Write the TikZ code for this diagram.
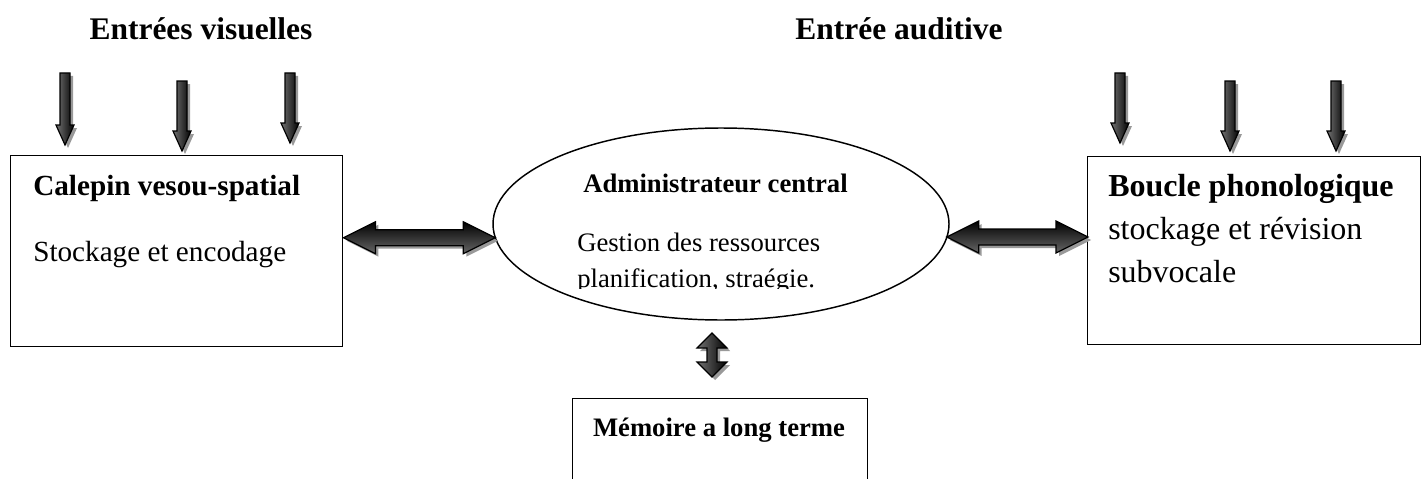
\documentclass[tikz,border=0pt]{standalone}
\usepackage{fontspec}
\setmainfont{Liberation Serif}
\usetikzlibrary{shapes.geometric,calc}

% block arrows drawn between two named points
\newcommand\blkdownpath[2]{let \p1=(#1), \p2=(#2) in
  (\x1-3.75pt,\y1) -- (\x1+3.75pt,\y1) -- (\x1+3.75pt,\y2+15pt) -- (\x1+6.75pt,\y2+15pt)
  -- (\x2,\y2) -- (\x1-6.75pt,\y2+15pt) -- (\x1-3.75pt,\y2+15pt) -- cycle}
\newcommand\blkhorizpath[2]{let \p1=(#1), \p2=(#2) in
  (\x1,\y1) -- (\x1+24pt,\y1+12pt) -- (\x1+24pt,\y1+6pt) -- (\x2-24pt,\y1+6pt)
  -- (\x2-24pt,\y1+12pt) -- (\x2,\y1) -- (\x2-24pt,\y1-12pt) -- (\x2-24pt,\y1-6pt)
  -- (\x1+24pt,\y1-6pt) -- (\x1+24pt,\y1-12pt) -- cycle}
\newcommand\blkvertpath[2]{let \p1=(#1), \p2=(#2) in
  (\x1,\y1) -- (\x1+11.25pt,\y1-11.25pt) -- (\x1+3.75pt,\y1-11.25pt) -- (\x1+3.75pt,\y2+11.25pt)
  -- (\x1+11.25pt,\y2+11.25pt) -- (\x1,\y2) -- (\x1-11.25pt,\y2+11.25pt) -- (\x1-3.75pt,\y2+11.25pt)
  -- (\x1-3.75pt,\y1-11.25pt) -- (\x1-11.25pt,\y1-11.25pt) -- cycle}

\newcommand\blkdown[2]{%
  \begin{scope}[transform canvas={shift={(2.25pt,-2.25pt)}}]
    \path[arrshadow] \blkdownpath{#1}{#2};
  \end{scope}
  \path[arrbody,left color=black!55,right color=black] \blkdownpath{#1}{#2};}
\newcommand\blkhoriz[2]{%
  \begin{scope}[transform canvas={shift={(2.25pt,-2.25pt)}}]
    \path[arrshadow] \blkhorizpath{#1}{#2};
  \end{scope}
  \path[arrbody,top color=black,bottom color=black!60] \blkhorizpath{#1}{#2};}
\newcommand\blkvert[2]{%
  \begin{scope}[transform canvas={shift={(2.25pt,-2.25pt)}}]
    \path[arrshadow] \blkvertpath{#1}{#2};
  \end{scope}
  \path[arrbody,left color=black!55,right color=black] \blkvertpath{#1}{#2};}

\begin{document}
\begin{tikzpicture}[x=0.75pt,y=-0.75pt,
  panel/.style={draw,line width=1.1pt,rectangle,inner sep=0pt,anchor=north west},
  arrshadow/.style={fill=black!40},
  arrbody/.style={draw=black,line width=0.9pt},
  heading/.style={font=\fontsize{23.6}{28}\selectfont\bfseries,inner sep=0pt,anchor=base},
  txt/.style={inner sep=0pt,anchor=base west},
  bigb/.style={txt,font=\fontsize{21.9}{26}\selectfont\bfseries},
  bigr/.style={txt,font=\fontsize{21.9}{26}\selectfont},
  hugeb/.style={txt,font=\fontsize{24}{28}\selectfont\bfseries},
  huger/.style={txt,font=\fontsize{24}{28}\selectfont},
  midb/.style={txt,font=\fontsize{20}{24}\selectfont\bfseries},
  midr/.style={txt,font=\fontsize{20}{24}\selectfont}]
\useasboundingbox (0,0) rectangle (1426,478);

% headings
\node[heading] (tvis) at (201,40) {Entrées visuelles};
\node[heading] (taud) at (899,40) {Entrée auditive};

% boxes
\node[panel,minimum width=249pt,minimum height=143.25pt] (vis) at (10,155) {};
\node[panel,minimum width=249.75pt,minimum height=141pt] (phon) at (1087,156) {};
\node[panel,minimum width=221.25pt,minimum height=75pt] (mlt) at (572,398) {};
\node[draw,ellipse,line width=1.1pt,minimum width=342pt,minimum height=144pt,inner sep=0pt] (ell) at (721,224) {};

% box texts
\node[bigb] (visa) at (33,195) {Calepin vesou-spatial};
\node[bigr] (visb) at (33,261) {Stockage et encodage};
\node[hugeb] (phona) at (1108,196) {Boucle phonologique};
\node[huger] (phonb) at (1108,239) {stockage et révision};
\node[huger] (phonc) at (1108,282) {subvocale};
\node[midb] (ella) at (583,192) {Administrateur central};
\node[midr] (ellb) at (577,251) {Gestion des ressources};
\begin{scope}
  \clip (500,260) rectangle (950,288);
  \node[midr] (ellc) at (577,287) {planification, straégie.};
\end{scope}
\node[midb,anchor=base] (mlta) at (719,436) {Mémoire a long terme};

% input arrows
\foreach \nm/\x/\a/\b in {v1/65/73/145, v2/182/81/151, v3/290/73/143,
                        a1/1120/73/143, a2/1230/81/151, a3/1336/81/151}{
  \coordinate (\nm s) at (\x,\a);
  \coordinate (\nm e) at (\x,\b);
}
\blkdown{v1s}{v1e}
\blkdown{v2s}{v2e}
\blkdown{v3s}{v3e}
\blkdown{a1s}{a1e}
\blkdown{a2s}{a2e}
\blkdown{a3s}{a3e}

% exchanges with the central administrator
\path (vis.east) ++(0,-13.5) coordinate (hl1);
\path (ell.west) ++(3,13) coordinate (hl2);
\path (ell.east) ++(-3,13) coordinate (hr1);
\path (phon.west) ++(1,-13) coordinate (hr2);
\blkhoriz{hl1}{hl2}
\blkhoriz{hr1}{hr2}
\coordinate (vd1) at (712,333);
\coordinate (vd2) at (712,377);
\blkvert{vd1}{vd2}
\end{tikzpicture}
\end{document}
